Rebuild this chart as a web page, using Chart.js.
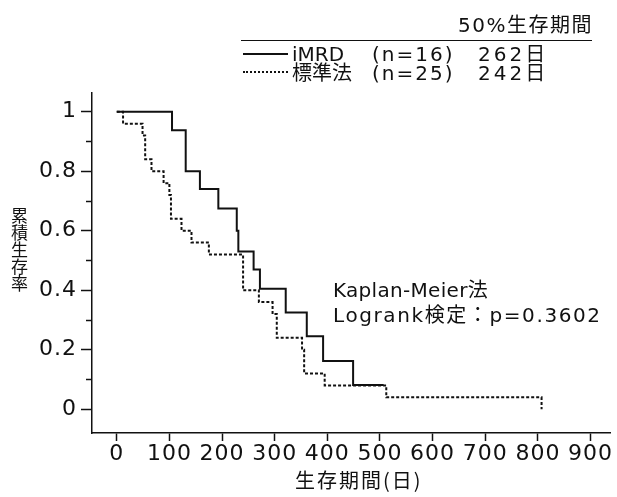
<!DOCTYPE html>
<html><head><meta charset="utf-8">
<script src="https://cdn.jsdelivr.net/npm/chart.js@4/dist/chart.umd.min.js"></script>
<style>
body{margin:0;background:#fff;}
#wrap{position:relative;width:617px;height:497px;overflow:hidden;background:#fff;}
canvas{position:absolute;left:0;top:0;}
.t{position:absolute;font-family:'DejaVu Sans','Noto Sans CJK JP',sans-serif;color:#111;white-space:nowrap;font-size:20px;line-height:20px;}
.ln{position:absolute;height:0;}
</style></head>
<body>
<div id="wrap">
<canvas id="c" width="617" height="497"></canvas>
<div class="t" style="left:458px;top:15px;letter-spacing:1.5px">50%生存期間</div>
<div class="ln" style="left:241px;top:40px;width:351px;border-top:1.5px solid #111"></div>
<div class="ln" style="left:243px;top:53px;width:45px;border-top:2px solid #111"></div>
<div class="ln" style="left:243px;top:71px;width:45px;border-top:2px dotted #111"></div>
<div class="t" id="n1" style="left:292px;top:44px"></div>
<div class="t" id="p1" style="left:372px;top:44px;letter-spacing:2px"></div>
<div class="t" id="m1" style="left:478px;top:44px;letter-spacing:3px"></div>
<div class="t" id="n2" style="left:292px;top:63px"></div>
<div class="t" id="p2" style="left:372px;top:63px;letter-spacing:2px"></div>
<div class="t" id="m2" style="left:478px;top:63px;letter-spacing:3px"></div>
<div class="t" style="left:333px;top:280px;letter-spacing:0.3px">Kaplan-Meier法</div>
<div class="t" style="left:333px;top:305px;letter-spacing:1.6px">Logrank検定：p=0.3602</div>
<div class="t" style="left:10px;top:207px;font-size:17px;line-height:18px;writing-mode:vertical-rl;font-family:'Noto Sans CJK JP',sans-serif">累積生存率</div>
<div class="t" style="left:295px;top:470px;font-size:20px;letter-spacing:2px;font-family:'Noto Sans CJK JP',sans-serif">生存期間(日)</div>
</div>
<script>
// ---- data ----
const xTickValues = [0,100,200,300,400,500,600,700,800,900];
const xTickLabels = ['0','100','200','300','400','500','600','700','800','900'];
const yTickValues = [0,0.2,0.4,0.6,0.8,1];
const yTickLabels = ['0','0.2','0.4','0.6','0.8','1'];
const yMinorTicks = [0.1,0.3,0.5,0.7,0.9];

const seriesNames = ['iMRD','標準法'];
const seriesN = [16,25];
const medianDays = [262,242];

const imrdDays = [0,105,131,158,193,228,231,260,272,321,361,392,449,507];
const imrdSurv = [1,0.938,0.80,0.74,0.675,0.60,0.53,0.47,0.405,0.325,0.245,0.162,0.081,0.081];

const stdDays = [0,12,49,54,66,89,100,103,123,142,175,240,270,296,304,352,356,395,512,807];
const stdSurv = [1,0.96,0.92,0.84,0.80,0.76,0.72,0.64,0.60,0.56,0.52,0.40,0.36,0.32,0.24,0.20,0.12,0.08,0.04,0];

// legend texts
document.getElementById('n1').textContent = seriesNames[0];
document.getElementById('n2').textContent = seriesNames[1];
document.getElementById('p1').textContent = '(n=' + seriesN[0] + ')';
document.getElementById('p2').textContent = '(n=' + seriesN[1] + ')';
document.getElementById('m1').textContent = medianDays[0] + '日';
document.getElementById('m2').textContent = medianDays[1] + '日';

const ink = '#111';
const tickFont = {family:"'DejaVu Sans', sans-serif", size:22};

const minorTickPlugin = {
  id:'minorTicks',
  beforeDraw(chart){ chart.ctx.letterSpacing = '1px'; },
  afterDraw(chart){
    const ctx = chart.ctx, y = chart.scales.y, left = chart.chartArea.left;
    ctx.save();
    ctx.strokeStyle = ink; ctx.lineWidth = 1.5;
    yMinorTicks.forEach(v=>{
      const py = Math.round(y.getPixelForValue(v)) + 0.5;
      ctx.beginPath(); ctx.moveTo(left-6, py); ctx.lineTo(left, py); ctx.stroke();
    });
    ctx.restore();
  }
};

new Chart(document.getElementById('c'), {
  type:'line',
  data:{datasets:[
    {label:seriesNames[0], data:imrdDays.map((d,i)=>({x:d,y:imrdSurv[i]})), stepped:'before',
     borderColor:ink, borderWidth:2, pointRadius:0, fill:false},
    {label:seriesNames[1], data:stdDays.map((d,i)=>({x:d,y:stdSurv[i]})), stepped:'before',
     borderColor:ink, borderWidth:2, borderDash:[3,2], pointRadius:0, fill:false}
  ]},
  options:{
    responsive:false, animation:false, devicePixelRatio:1,
    layout:{padding:{top:93,right:7,left:0,bottom:0}},
    plugins:{legend:{display:false}, tooltip:{enabled:false}},
    scales:{
      x:{type:'linear', min:-47, max:937,
        afterBuildTicks:s=>{ s.ticks = xTickValues.map(v=>({value:v})); },
        afterFit:s=>{ s.height = 64; },
        grid:{drawOnChartArea:false, drawTicks:true, tickLength:8, tickColor:ink, tickWidth:1.5},
        border:{display:true, color:ink, width:1.5},
        ticks:{font:tickFont, color:ink, padding:0, maxRotation:0, autoSkip:false,
          callback:(v,i)=>xTickLabels[i]}
      },
      y:{type:'linear', min:-0.08, max:1.063,
        afterBuildTicks:s=>{ s.ticks = yTickValues.map(v=>({value:v})); },
        afterFit:s=>{ s.width = 92; },
        grid:{drawOnChartArea:false, drawTicks:true, tickLength:11, tickColor:ink, tickWidth:1.5},
        border:{display:true, color:ink, width:1.5},
        ticks:{font:tickFont, color:ink, padding:4, autoSkip:false,
          callback:(v,i)=>yTickLabels[i]}
      }
    }
  },
  plugins:[minorTickPlugin]
});
</script>
</body></html>
